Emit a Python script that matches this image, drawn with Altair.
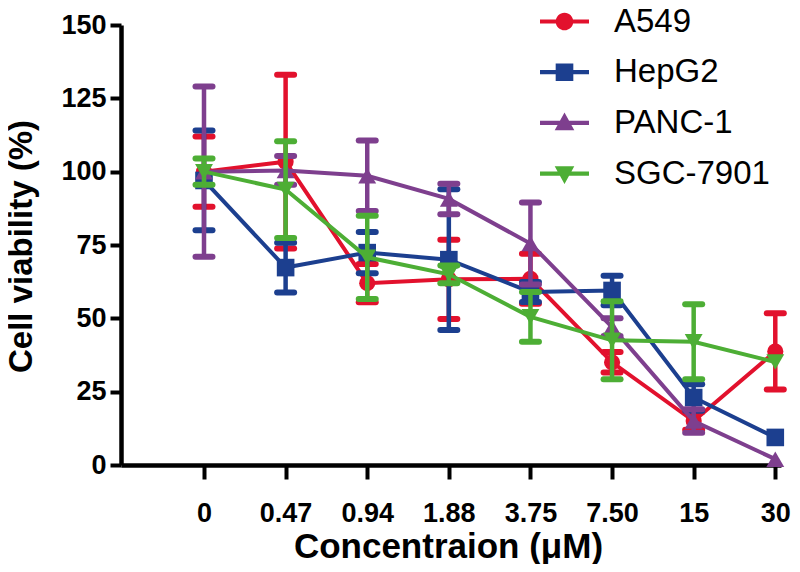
import altair as alt
import pandas as pd

# ---------------- data ----------------
conc_labels = ["0", "0.47", "0.94", "1.88", "3.75", "7.50", "15", "30"]
series_names = ["A549", "HepG2", "PANC-1", "SGC-7901"]
series_colors = ["#E2112D", "#1C3F8F", "#7E3F8E", "#4DAE35"]
marker_shapes = ["circle", "square", "triangle-up", "triangle-down"]

a549_mean = [100, 103.4, 62, 63.3, 63.5, 35, 15, 38.7]
a549_sd = [12, 29.6, 6.5, 13.5, 8.5, 3.5, 3, 13]
hepg2_mean = [97, 67.3, 72.4, 70, 59, 59.5, 23, 9.4]
hepg2_sd = [17, 8.5, 7, 24, 3.4, 5, 4.5, 0]
panc1_mean = [100, 100.4, 98.6, 90.7, 75.5, 47, 15, 2]
panc1_sd = [29, 4.9, 12, 5.2, 14, 3, 4, 0]
sgc_mean = [100, 93.9, 70.8, 65, 50.5, 42.5, 42, 35.1]
sgc_sd = [4.5, 16.5, 14.2, 3, 8.5, 13.3, 12.8, 0]

y_ticks = [0, 25, 50, 75, 100, 125, 150]

# legend symbols: a line with the marker on it (path in [-1, 1] box)
bar = "M-1,-0.085 L1,-0.085 L1,0.085 L-1,0.085 Z "
legend_paths = [
    bar + "M0.36,0 A0.36,0.36 0 1 1 -0.36,0 A0.36,0.36 0 1 1 0.36,0 Z",
    bar + "M-0.36,-0.36 L0.36,-0.36 L0.36,0.36 L-0.36,0.36 Z",
    bar + "M0,-0.42 L0.4,0.3 L-0.4,0.3 Z",
    bar + "M0,0.42 L-0.4,-0.3 L0.4,-0.3 Z",
]

means = [a549_mean, hepg2_mean, panc1_mean, sgc_mean]
sds = [a549_sd, hepg2_sd, panc1_sd, sgc_sd]

rows = []
for name, m, s in zip(series_names, means, sds):
    for i, (mv, sv) in enumerate(zip(m, s)):
        rows.append({"series": name, "idx": i, "mean": mv, "sd": sv,
                     "lo": mv - sv, "hi": mv + sv})
df = pd.DataFrame(rows)

FONT = "Liberation Sans"

x_scale = alt.Scale(domain=[-1.017, 7.07], nice=False, zero=False)
y_scale = alt.Scale(domain=[0, 150], nice=False)

label_expr = "[" + ",".join("'" + l + "'" for l in conc_labels) + "][datum.value]"

x_axis = alt.Axis(
    values=list(range(len(conc_labels))), labelExpr=label_expr, grid=False,
    tickSize=14, tickWidth=4, domainWidth=4.5, labelPadding=21,
    labelFontSize=27, labelFontWeight="bold", labelFont=FONT, labelColor="black",
    title="Concentraion (μM)", titleFontSize=35, titleFontWeight="bold", titleFont=FONT,
    titleColor="black", titleX=327, titleY=64, titleBaseline="top", titleAlign="center",
)
y_axis = alt.Axis(
    values=y_ticks, grid=False, tickSize=11, tickWidth=4, domainWidth=4.5, labelPadding=4,
    labelFontSize=27, labelFontWeight="bold", labelFont=FONT, labelColor="black",
    title="Cell viability (%)", titleFontSize=33, titleFontWeight="bold", titleFont=FONT,
    titleColor="black", titleX=-83, titleY=221, titleBaseline="bottom", titleAngle=-90,
    titleAlign="center",
)


def X(field="idx:Q"):
    return alt.X(field, scale=x_scale, axis=x_axis)


def Y(field):
    return alt.Y(field, scale=y_scale, axis=y_axis)


layers = []
for name, color, shp in zip(series_names, series_colors, marker_shapes):
    sub = alt.Chart(df).transform_filter(alt.datum.series == name)
    err = sub.mark_rule(color=color, strokeWidth=4.5).encode(
        x=X(), y=Y("lo:Q"), y2="hi:Q")
    cap_hi = sub.transform_filter(alt.datum.sd > 0).mark_rule(
        color=color, strokeWidth=6, strokeCap="round", xOffset=-8.5, x2Offset=8.5
    ).encode(x=X(), x2="idx:Q", y=Y("hi:Q"))
    cap_lo = sub.transform_filter(alt.datum.sd > 0).mark_rule(
        color=color, strokeWidth=6, strokeCap="round", xOffset=-8.5, x2Offset=8.5
    ).encode(x=X(), x2="idx:Q", y=Y("lo:Q"))
    line = sub.mark_line(color=color, strokeWidth=4).encode(x=X(), y=Y("mean:Q"))
    size = {"circle": 260, "square": 310, "triangle-up": 320, "triangle-down": 320}[shp]
    pts = sub.mark_point(color=color, filled=True, opacity=1, shape=shp, size=size).encode(
        x=X(), y=Y("mean:Q"))
    layers += [err, cap_hi, cap_lo, line, pts]

legend = alt.Legend(
    title=None, orient="none", legendX=419, legendY=-28, padding=0,
    symbolSize=2401, symbolStrokeWidth=0, symbolOpacity=1, labelFontSize=33,
    labelFont=FONT, labelColor="black", labelOffset=25, rowPadding=8.7,
    labelLimit=400,
)
legend_layer = alt.Chart(df).mark_point(filled=True, opacity=0).encode(
    x=X(), y=Y("mean:Q"),
    color=alt.Color("series:N", scale=alt.Scale(domain=series_names, range=series_colors),
                    legend=legend),
    shape=alt.Shape("series:N", scale=alt.Scale(domain=series_names, range=legend_paths),
                    legend=legend),
)

chart = alt.layer(legend_layer, *layers).properties(
    width=660, height=440,
    autosize=alt.AutoSizeParams(type="none"),
    padding={"left": 113, "top": 17, "right": 11, "bottom": 99},
).configure_view(stroke=None).configure_axis(
    domainColor="black", tickColor="black"
)

chart.save("out.html", embed_options={"renderer": "svg", "actions": False})
